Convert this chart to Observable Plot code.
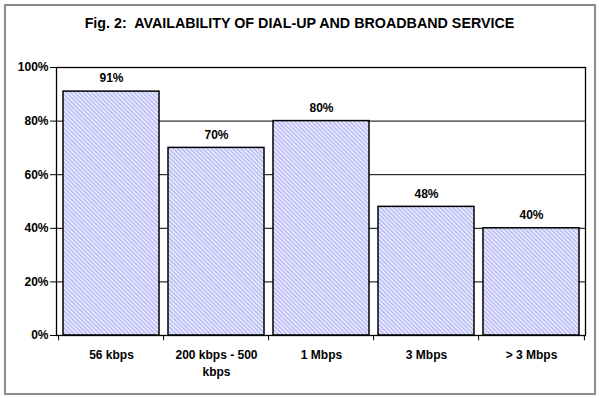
<!DOCTYPE html>
<html>
<head>
<meta charset="utf-8">
<script src="https://cdn.jsdelivr.net/npm/d3@7"></script>
<script src="https://cdn.jsdelivr.net/npm/@observablehq/plot@0.6"></script>
<style>
  body { margin: 0; background: #fff; font-family: "Liberation Sans", Arial, sans-serif; }
  #wrap { position: relative; width: 599px; height: 398px; overflow: hidden; background: #fff; }
  #border { position: absolute; left: 4px; top: 4px; width: 588px; height: 387px; border: 2px solid #8c8c8c; box-sizing: content-box; }
  #title { position: absolute; left: 0; top: 15px; width: 599px; text-align: center; font-weight: bold; font-size: 14.3px; color: #000; white-space: pre; }
  #chart { position: absolute; left: 0; top: 40px; }
</style>
</head>
<body>
<div id="wrap">
  <div id="border"></div>
  <div id="title">Fig. 2:  AVAILABILITY OF DIAL-UP AND BROADBAND SERVICE</div>
  <div id="chart"></div>
</div>
<script>
const categories = ["56 kbps", "200 kbps - 500 kbps", "1 Mbps", "3 Mbps", "> 3 Mbps"];
const tickLabels = ["56 kbps", "200 kbps - 500\nkbps", "1 Mbps", "3 Mbps", "> 3 Mbps"];
const values = [91, 70, 80, 48, 40];
const yTicks = [0, 20, 40, 60, 80, 100];

const data = categories.map((c, i) => ({cat: c, v: values[i], label: values[i] + "%"}));

const W = 599, H = 358;
const mL = 56, mR = 14, mT = 27, mB = 63;
const step = (W - mL - mR) / categories.length;

const plot = Plot.plot({
  width: W, height: H,
  marginLeft: mL, marginRight: mR, marginTop: mT, marginBottom: mB,
  style: {fontFamily: "'Liberation Sans', Arial, sans-serif", fontSize: "12px", fontWeight: "bold", color: "#000", background: "transparent", overflow: "visible"},
  x: {domain: categories, paddingInner: 0.09, paddingOuter: 0.045, label: null},
  y: {domain: [0, 100], label: null},
  marks: [
    Plot.ruleY(yTicks.filter(t => t > 0 && t < 100), {stroke: "#000", strokeWidth: 1}),
    Plot.barY(data, {x: "cat", y: "v", fill: "url(#hatch)", stroke: "#000", strokeWidth: 1.5}),
    Plot.text(data, {x: "cat", y: "v", text: "label", dy: -13, fontSize: 12, fontWeight: "bold", fill: "#000"}),
    Plot.frame({stroke: "#000", strokeWidth: 1.3}),
    Plot.axisY({ticks: yTicks, tickFormat: d => d + "%", tickSize: 6, tickPadding: 2, fontSize: 12, fontWeight: "bold", stroke: "#000"}),
    Plot.ruleX(categories, {x: d => d, dx: -step / 2, y1: 0, y2: -2, stroke: "#000"}),
    Plot.ruleX([categories[categories.length - 1]], {x: d => d, dx: step / 2, y1: 0, y2: -2, stroke: "#000"}),
    Plot.axisX({tickSize: 0, tickPadding: 12, tickFormat: (d, i) => tickLabels[categories.indexOf(d)], fontSize: 12, fontWeight: "bold", lineHeight: 1.4})
  ]
});

const svg = d3.select(plot);
const defs = svg.insert("defs", ":first-child");
const pat = defs.append("pattern").attr("id", "hatch").attr("patternUnits", "userSpaceOnUse")
  .attr("width", 3).attr("height", 3).attr("patternTransform", "rotate(-45)");
pat.append("rect").attr("width", 3).attr("height", 3).attr("fill", "#f2f2ff");
pat.append("rect").attr("width", 1.4).attr("height", 3).attr("fill", "#aeb2f2");

document.getElementById("chart").appendChild(plot);
</script>
</body>
</html>
